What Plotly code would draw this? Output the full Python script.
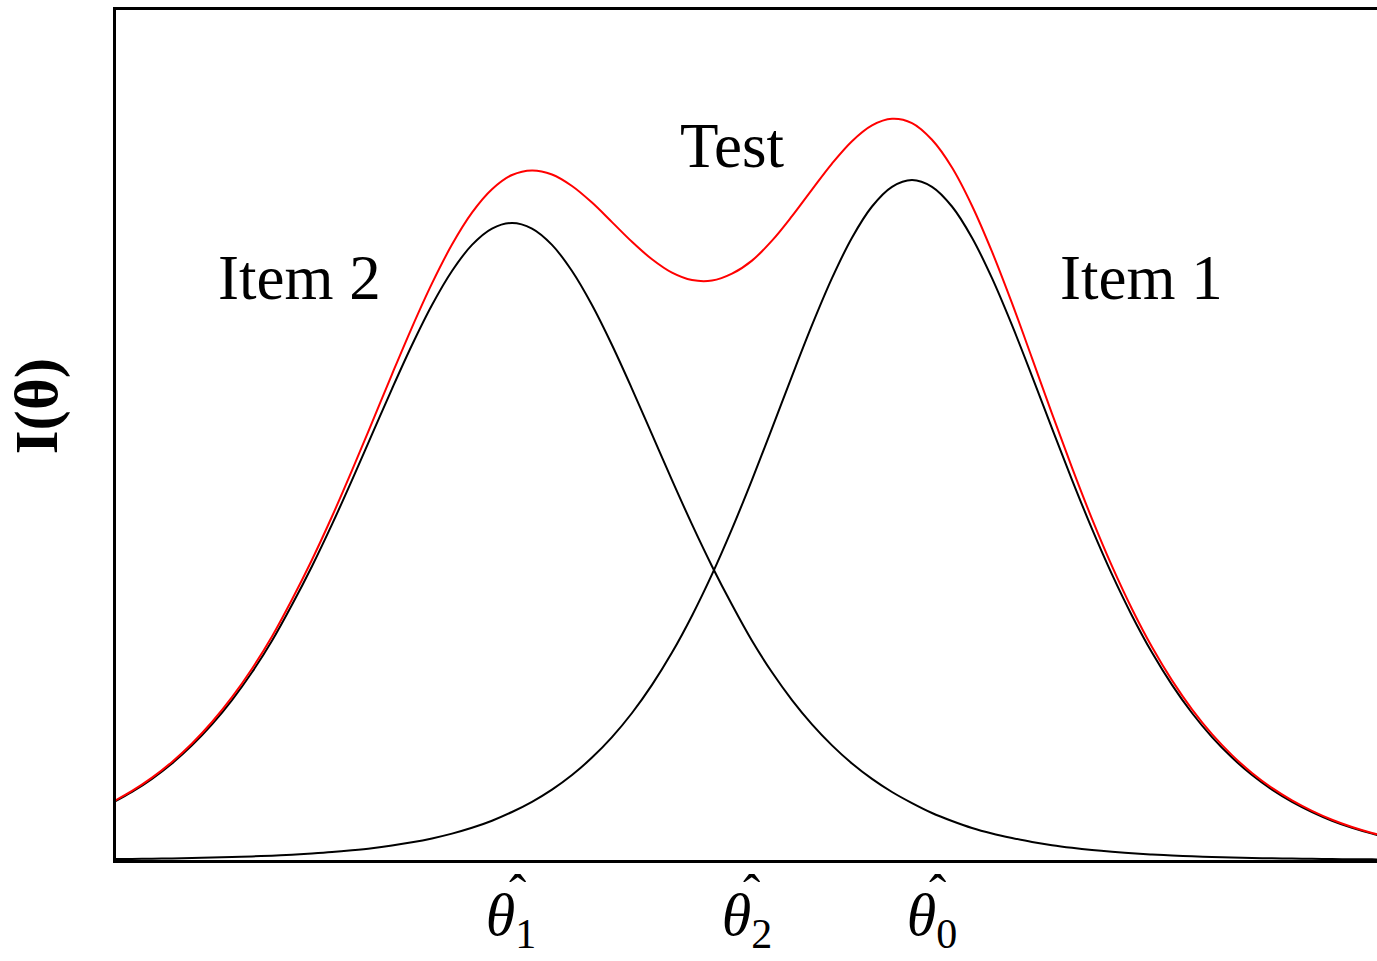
import plotly.graph_objects as go

# Ability scale (step 0.1) and item information values
theta = [round(-3.0 + 0.1 * k, 1) for k in range(65)]

item2_info = [0.569, 0.680, 0.811, 0.965, 1.146, 1.356, 1.599, 1.877, 2.192, 2.552, 2.938,
              3.356, 3.799, 4.256, 4.712, 5.150, 5.550, 5.890, 6.151, 6.314, 6.370,
              6.314, 6.151, 5.890, 5.550, 5.150, 4.712, 4.256, 3.799, 3.356, 2.938,
              2.552, 2.192, 1.877, 1.599, 1.356, 1.146, 0.965, 0.811, 0.680, 0.569,
              0.47, 0.39, 0.32, 0.265, 0.22, 0.18, 0.148, 0.122, 0.10, 0.082,
              0.067, 0.055, 0.045, 0.037, 0.030, 0.025, 0.0205, 0.017, 0.014, 0.0115,
              0.0095, 0.0078, 0.0064, 0.0052]

item1_info = [0.0088, 0.0107, 0.013, 0.016, 0.0195, 0.024, 0.029, 0.0356, 0.0435, 0.053,
              0.065, 0.079, 0.097, 0.118, 0.145, 0.177, 0.216, 0.264, 0.322, 0.393,
              0.480, 0.582, 0.704, 0.850, 1.024, 1.229, 1.470, 1.751, 2.074, 2.443,
              2.856, 3.311, 3.802, 4.316, 4.839, 5.348, 5.818, 6.223, 6.535, 6.732, 6.80,
              6.732, 6.535, 6.223, 5.818, 5.348, 4.839, 4.316, 3.802, 3.311, 2.856,
              2.443, 2.074, 1.751, 1.470, 1.229, 1.024, 0.850, 0.704, 0.582, 0.480,
              0.393, 0.322, 0.264, 0.216]

# Test information is the sum of the item informations
test_info = [a + b for a, b in zip(item1_info, item2_info)]

# Ability estimates marked on the horizontal axis
tick_vals = [-1.005, 0.175, 1.10]
tick_text = ["<i>θ</i><sub>1</sub>", "<i>θ</i><sub>2</sub>", "<i>θ</i><sub>0</sub>"]
hat_vals = [-0.975, 0.195, 1.125]

SERIF = "Liberation Serif, Times New Roman, serif"

fig = go.Figure()
for name, vals, color in [("Item 2", item2_info, "black"),
                          ("Item 1", item1_info, "black"),
                          ("Test", test_info, "#ff0000")]:
    fig.add_trace(go.Scatter(x=theta, y=vals, mode="lines", name=name, showlegend=False,
                             line=dict(color=color, width=2, shape="spline", smoothing=1)))

label_font = dict(family=SERIF, size=63, color="black")
fig.add_annotation(x=-2.065, y=5.82, text="Item 2", showarrow=False,
                   xanchor="center", yanchor="middle", font=label_font)
fig.add_annotation(x=2.145, y=5.82, text="Item 1", showarrow=False,
                   xanchor="center", yanchor="middle", font=label_font)
fig.add_annotation(x=0.10, y=7.14, text="Test", showarrow=False,
                   xanchor="center", yanchor="middle", font=label_font)

# circumflex accents over the estimate symbols
for hx in hat_vals:
    fig.add_annotation(x=hx, xref="x", y=-0.004, yref="paper", text="ˆ", showarrow=False,
                       xanchor="center", yanchor="top",
                       font=dict(family=SERIF, size=52, color="black"))

fig.add_annotation(xref="paper", yref="paper", x=-0.0626, y=0.534, text="<b>I(θ)</b>", textangle=-90,
                   showarrow=False, xanchor="center", yanchor="middle",
                   font=dict(family=SERIF, size=61, color="black"))

fig.update_xaxes(range=[-2.98, 3.325], showline=True, linecolor="black", linewidth=3, mirror=True,
                 showgrid=False, zeroline=False, ticks="", tickvals=tick_vals, ticktext=tick_text,
                 tickfont=dict(family=SERIF, size=60, color="black"))
fig.update_yaxes(range=[0, 8.5], showline=True, linecolor="black", linewidth=3, mirror=False,
                 showgrid=False, zeroline=False, showticklabels=False, ticks="")

fig.update_layout(width=1377, height=961, margin=dict(l=116, r=0, t=10, b=101),
                  plot_bgcolor="white", paper_bgcolor="white")

fig.write_html("out.html")
